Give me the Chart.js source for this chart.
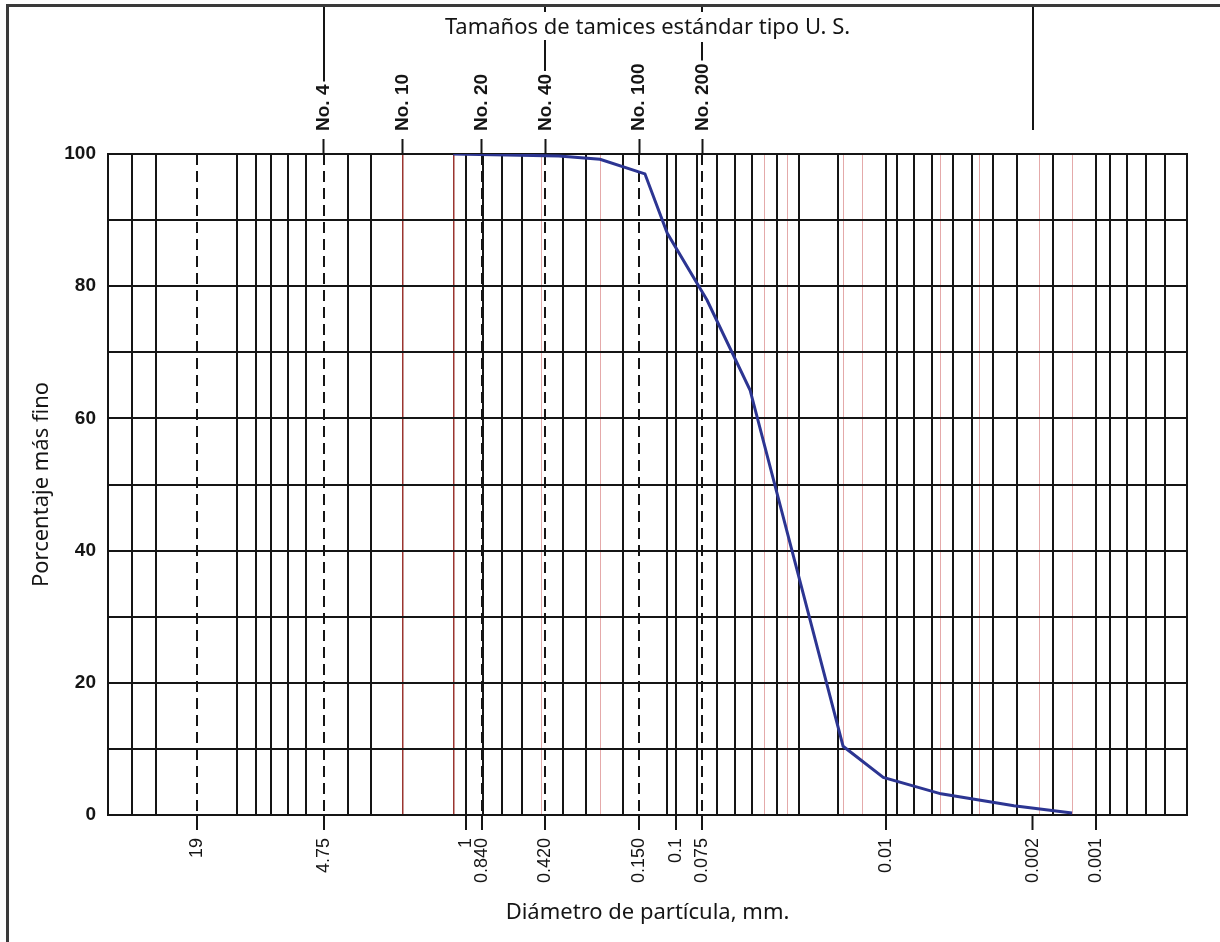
<!DOCTYPE html>
<html>
<head>
<meta charset="utf-8">
<title>Curva granulométrica</title>
<script src="https://cdn.jsdelivr.net/npm/chart.js@4.4.0/dist/chart.umd.min.js"></script>
<style>
  html, body { margin: 0; padding: 0; background: #fff; }
  #countiner { position: relative; width: 1220px; height: 942px; }
  #frame { position: absolute; left: 6px; top: 4px; right: 0; bottom: 0; border-top: 3px solid #3a3a3a; border-left: 3px solid #3a3a3a; pointer-events: none; }
  canvas { position: absolute; left: 0; top: 0; }
</style>
</head>
<body>
<div id="countiner">
  <canvas id="myChart" width="1220" height="942"></canvas>
  <div id="frame"></div>
</div>
<script>
'use strict'
// curve: particle diameter (mm) and percent finer
let diameters = [1.15, 0.361, 0.230, 0.1406, 0.110, 0.0712, 0.0444, 0.0160, 0.0103, 0.00547, 0.00246, 0.00130];
let percentFiner = [100, 99.7, 99.2, 97.0, 88.0, 77.9, 64.3, 10.4, 5.7, 3.2, 1.4, 0.3];

// bottom axis labels (mm)
let bottomTicks = [19, 4.75, 1, 0.84, 0.42, 0.15, 0.1, 0.075, 0.01, 0.002, 0.001];
let bottomLabels = ['19', '4.75', '1', '0.840', '0.420', '0.150', '0.1', '0.075', '0.01', '0.002', '0.001'];

// U.S. standard sieves on the top axis
let sieveSizes = [4.75, 2.0, 0.84, 0.42, 0.15, 0.075];
let sieveNames = ['No. 4', 'No. 10', 'No. 20', 'No. 40', 'No. 100', 'No. 200'];

// vertical rulings of the paper (mm)
let dashedLines = [19, 4.75, 0.84, 0.42, 0.15, 0.075];
let blackLines = [38.9, 29.9, 12.3, 10, 8.49, 7.04, 5.78, 3.65, 2.83, 1, 0.83, 0.674, 0.541, 0.345, 0.268, 0.179,
  0.1104, 0.1, 0.0794, 0.0638, 0.0524, 0.0435, 0.033, 0.026, 0.0169, 0.01, 0.00886, 0.00736, 0.00604, 0.0048,
  0.0039, 0.00309, 0.00238, 0.0016, 0.001, 0.000858, 0.000712, 0.000578, 0.000469];
let redLines = [2.0, 1.15, 0.435, 0.23, 0.0377, 0.0296, 0.016, 0.0129, 0.00553, 0.00357, 0.00185, 0.0013];
let darkRedLines = [2.0, 1.15];

let yTicks = [0, 20, 40, 60, 80, 100];

let xMax = 50.68;
let xMin = 0.0003686;

function has(arr, v) {
    for (let i = 0; i < arr.length; i++) {
        if (Math.abs(arr[i] - v) / v < 1e-6) return true;
    }
    return false;
}

let allLines = [];
[blackLines, dashedLines, redLines, bottomTicks, [xMin]].forEach(function (arr) {
    arr.forEach(function (v) {
        if (!has(allLines, v)) allLines.push(v);
    });
});
allLines.sort(function (a, b) { return b - a; });

let ink = '#151515';
let labelFont = "'Liberation Sans', Arial, sans-serif";
let titleFont = "'Noto Sans', 'Open Sans', sans-serif";

function lineColor(ctx) {
    if (!ctx.tick) return ink;
    let v = ctx.tick.value;
    if (has(darkRedLines, v)) return '#9a3530';
    if (has(blackLines, v) || has(dashedLines, v) || v === xMin) return ink;
    if (has(redLines, v)) return 'rgba(205,100,100,0.55)';
    return 'rgba(0,0,0,0)';
}
function lineWidth(ctx) {
    if (!ctx.tick) return 2;
    let v = ctx.tick.value;
    if (has(darkRedLines, v)) return 1.5;
    if (has(blackLines, v) || has(dashedLines, v) || v === xMin) return 2;
    return 1;
}

// leader lines above the sieve names
let leaders = [
    { value: 4.75, y1: 6, toLabel: true },
    { value: 0.42, y1: 40, toLabel: true },
    { value: 0.42, y1: 6, y2: 12 },
    { value: 0.075, y1: 42, toLabel: true },
    { value: 0.075, y1: 6, y2: 12 },
    { value: 0.002, y1: 6, y2: 130 }
];

let leaderPlugin = {
    id: 'leaders',
    afterDraw: function (chart) {
        let scale = chart.scales.x2;
        let ctx = chart.ctx;
        ctx.save();
        ctx.strokeStyle = ink;
        ctx.lineWidth = 2;
        ctx.font = 'bold 19px ' + labelFont;
        leaders.forEach(function (l) {
            let x = Math.round(scale.getPixelForValue(l.value));
            let y2 = l.y2;
            if (l.toLabel) {
                let name = sieveNames[sieveSizes.indexOf(l.value)];
                y2 = scale.bottom - 15 - 8 - ctx.measureText(name).width - 3;
            }
            ctx.beginPath();
            ctx.moveTo(x, l.y1);
            ctx.lineTo(x, y2);
            ctx.stroke();
        });
        ctx.restore();
    }
};

let ctx = document.getElementById('myChart').getContext('2d');
let myChart = new Chart(ctx, {
    type: 'line',
    data: {
        datasets: [{
            label: 'Porcentaje más fino',
            data: diameters.map(function (d, i) { return { x: d, y: percentFiner[i] }; }),
            borderColor: '#2c3592',
            borderWidth: 3,
            pointRadius: 0,
            fill: false,
            tension: 0,
            xAxisID: 'x',
            yAxisID: 'y'
        }]
    },
    options: {
        responsive: false,
        animation: false,
        devicePixelRatio: 1,
        layout: { padding: { left: 0, right: 33, top: 8, bottom: 0 } },
        plugins: { legend: { display: false }, tooltip: { enabled: false } },
        scales: {
            x: {
                type: 'logarithmic',
                position: 'bottom',
                reverse: true,
                min: xMin,
                max: xMax,
                afterBuildTicks: function (s) { s.ticks = allLines.map(function (v) { return { value: v }; }); },
                afterFit: function (s) { s.height = 127; },
                grid: {
                    color: lineColor,
                    lineWidth: lineWidth,
                    drawTicks: true,
                    tickLength: 15,
                    tickWidth: 2,
                    tickColor: function (c) { return c.tick && has(bottomTicks, c.tick.value) ? ink : 'rgba(0,0,0,0)'; }
                },
                border: {
                    display: true,
                    color: ink,
                    width: 2,
                    dash: function (c) { return c.tick && has(dashedLines, c.tick.value) ? [11, 6] : []; }
                },
                ticks: {
                    autoSkip: false,
                    minRotation: 90,
                    maxRotation: 90,
                    padding: 8,
                    color: ink,
                    font: { family: labelFont, size: 18 },
                    callback: function (v) {
                        for (let i = 0; i < bottomTicks.length; i++) {
                            if (Math.abs(bottomTicks[i] - v) / v < 1e-6) return bottomLabels[i];
                        }
                        return '';
                    }
                },
                title: {
                    display: true,
                    text: 'Diámetro de partícula, mm.',
                    color: ink,
                    font: { family: titleFont, size: 22 },
                    padding: { top: 0, bottom: 16 }
                }
            },
            x2: {
                type: 'logarithmic',
                position: 'top',
                reverse: true,
                min: xMin,
                max: xMax,
                afterBuildTicks: function (s) { s.ticks = sieveSizes.map(function (v) { return { value: v }; }); },
                afterFit: function (s) { s.height = 146; },
                grid: { drawOnChartArea: false, drawTicks: true, tickLength: 15, tickWidth: 2, tickColor: ink },
                border: { display: true, color: ink, width: 2 },
                ticks: {
                    autoSkip: false,
                    minRotation: 90,
                    maxRotation: 90,
                    padding: 8,
                    labelOffset: 23,
                    color: ink,
                    font: { family: labelFont, size: 19, weight: 'bold' },
                    callback: function (v) { return sieveNames[sieveSizes.indexOf(v)]; }
                },
                title: {
                    display: true,
                    text: 'Tamaños de tamices estándar tipo U. S.',
                    color: ink,
                    font: { family: titleFont, size: 22 },
                    padding: { top: 7, bottom: 0 }
                }
            },
            y: {
                type: 'linear',
                min: 0,
                max: 100,
                afterFit: function (s) { s.width = 108; },
                grid: { color: ink, lineWidth: 2, drawTicks: false },
                border: { display: true, color: ink, width: 2 },
                ticks: {
                    stepSize: 10,
                    padding: 12,
                    color: ink,
                    font: { family: labelFont, size: 19, weight: 'bold' },
                    callback: function (v) { return yTicks.indexOf(v) >= 0 ? String(v) : ''; }
                },
                title: {
                    display: true,
                    text: 'Porcentaje más fino',
                    color: ink,
                    font: { family: titleFont, size: 22 },
                    padding: { top: 29, bottom: 0 }
                }
            }
        }
    },
    plugins: [leaderPlugin]
});
</script>
</body>
</html>
